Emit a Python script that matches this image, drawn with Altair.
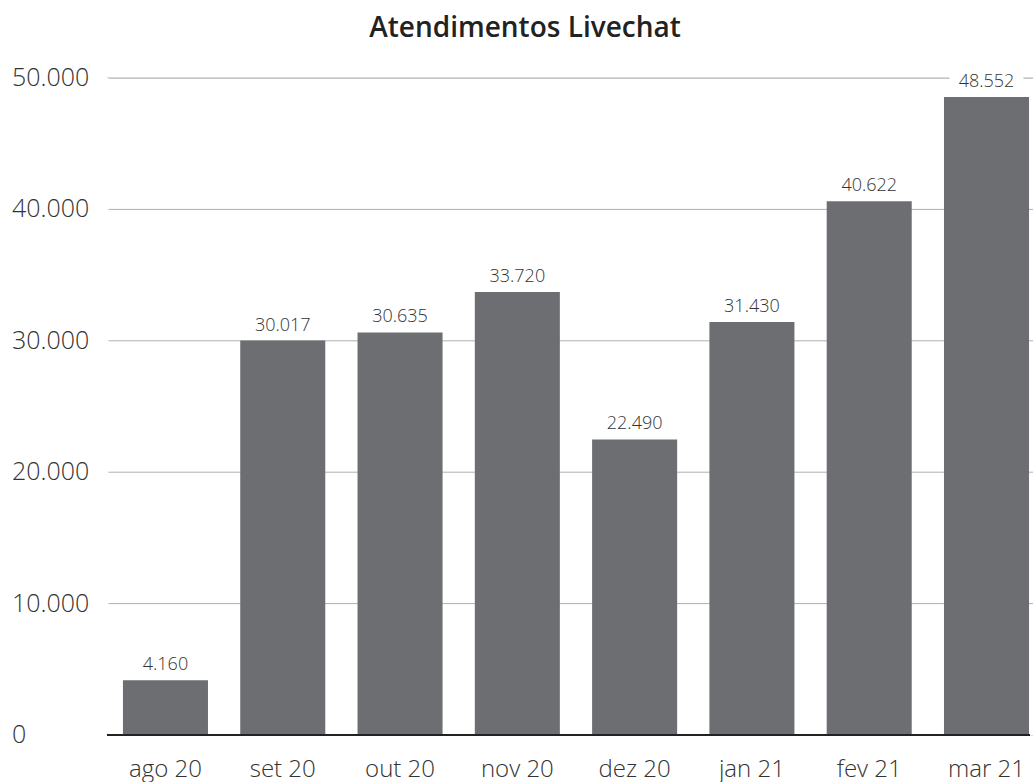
import altair as alt
import pandas as pd

months = ["ago 20", "set 20", "out 20", "nov 20", "dez 20", "jan 21", "fev 21", "mar 21"]
values = [4160, 30017, 30635, 33720, 22490, 31430, 40622, 48552]
value_labels = ["4.160", "30.017", "30.635", "33.720", "22.490", "31.430", "40.622", "48.552"]

y_ticks = [0, 10000, 20000, 30000, 40000, 50000]
y_tick_labels = ["0", "10.000", "20.000", "30.000", "40.000", "50.000"]

df = pd.DataFrame({"mes": months, "atend": values, "rotulo": value_labels})
ticks_df = pd.DataFrame({"v": y_ticks, "txt": y_tick_labels})

FONT = "Open Sans"
TEXT = "#333333"
W, H = 926, 657

x = alt.X(
    "mes:N",
    sort=months,
    title=None,
    scale=alt.Scale(paddingInner=0.275, paddingOuter=0.085, align=0.8),
    axis=alt.Axis(
        labelAngle=0, labelFont=FONT, labelFontSize=24, labelFontWeight=300,
        labelColor=TEXT, labelPadding=22, ticks=False, domain=False, grid=False,
    ),
)
y_scale = alt.Scale(domain=[0, 50000], nice=False)
y = alt.Y("atend:Q", title=None, scale=y_scale, axis=None)

# horizontal gridlines and left-aligned value axis labels
grid = alt.Chart(ticks_df).transform_filter("datum.v > 0").mark_rule(
    color="#b0b0b0", strokeWidth=1
).encode(
    y=alt.Y("v:Q", scale=y_scale, axis=None),
    x=alt.value(0), x2=alt.value(W),
)
tick_text = alt.Chart(ticks_df).mark_text(
    font=FONT, fontSize=25, fontWeight=300, color=TEXT,
    align="left", baseline="middle",
).encode(
    y=alt.Y("v:Q", scale=y_scale, axis=None),
    x=alt.value(-95),
    text="txt:N",
)

base = alt.Chart(df)

bars = base.mark_bar(color="#6d6e71").encode(x=x, y=y)

# zero baseline
baseline = alt.Chart(ticks_df).transform_filter("datum.v == 0").mark_rule(
    color="#222222", strokeWidth=2
).encode(
    y=alt.Y("v:Q", scale=y_scale, axis=None),
    x=alt.value(0), x2=alt.value(W - 3),
)

# keep the left edge of the plot frame clean
left_edge = alt.Chart(ticks_df).transform_filter("datum.v == 0").mark_rule(
    color="white", strokeWidth=3
).encode(x=alt.value(0), y=alt.value(0), y2=alt.value(H - 2))

# white backing behind the value labels so gridlines break around them
backing = base.mark_point(
    shape="M-1,-0.21L1,-0.21L1,0.21L-1,0.21Z",
    size=5476, filled=True, color="white", opacity=1, yOffset=-17,
).encode(x=x, y=y)

labels = base.mark_text(
    font=FONT, fontSize=18, fontWeight=300, color=TEXT,
    baseline="alphabetic", dy=-10,
).encode(x=x, y=y, text="rotulo:N")

chart = (
    alt.layer(grid, tick_text, bars, baseline, backing, labels, left_edge)
    .properties(
        width=W,
        height=H,
        autosize=alt.AutoSizeParams(type="none"),
        padding={"left": 107, "top": 78, "right": 0, "bottom": 47},
        title=alt.Title(
            "Atendimentos Livechat", font=FONT, fontSize=28, fontWeight=600,
            color="#222222", anchor="middle", dx=-45, offset=23,
        ),
    )
    .configure_view(strokeWidth=0)
    .configure(background="white")
)

chart.save("out.html", embed_options={"renderer": "svg", "actions": False})
